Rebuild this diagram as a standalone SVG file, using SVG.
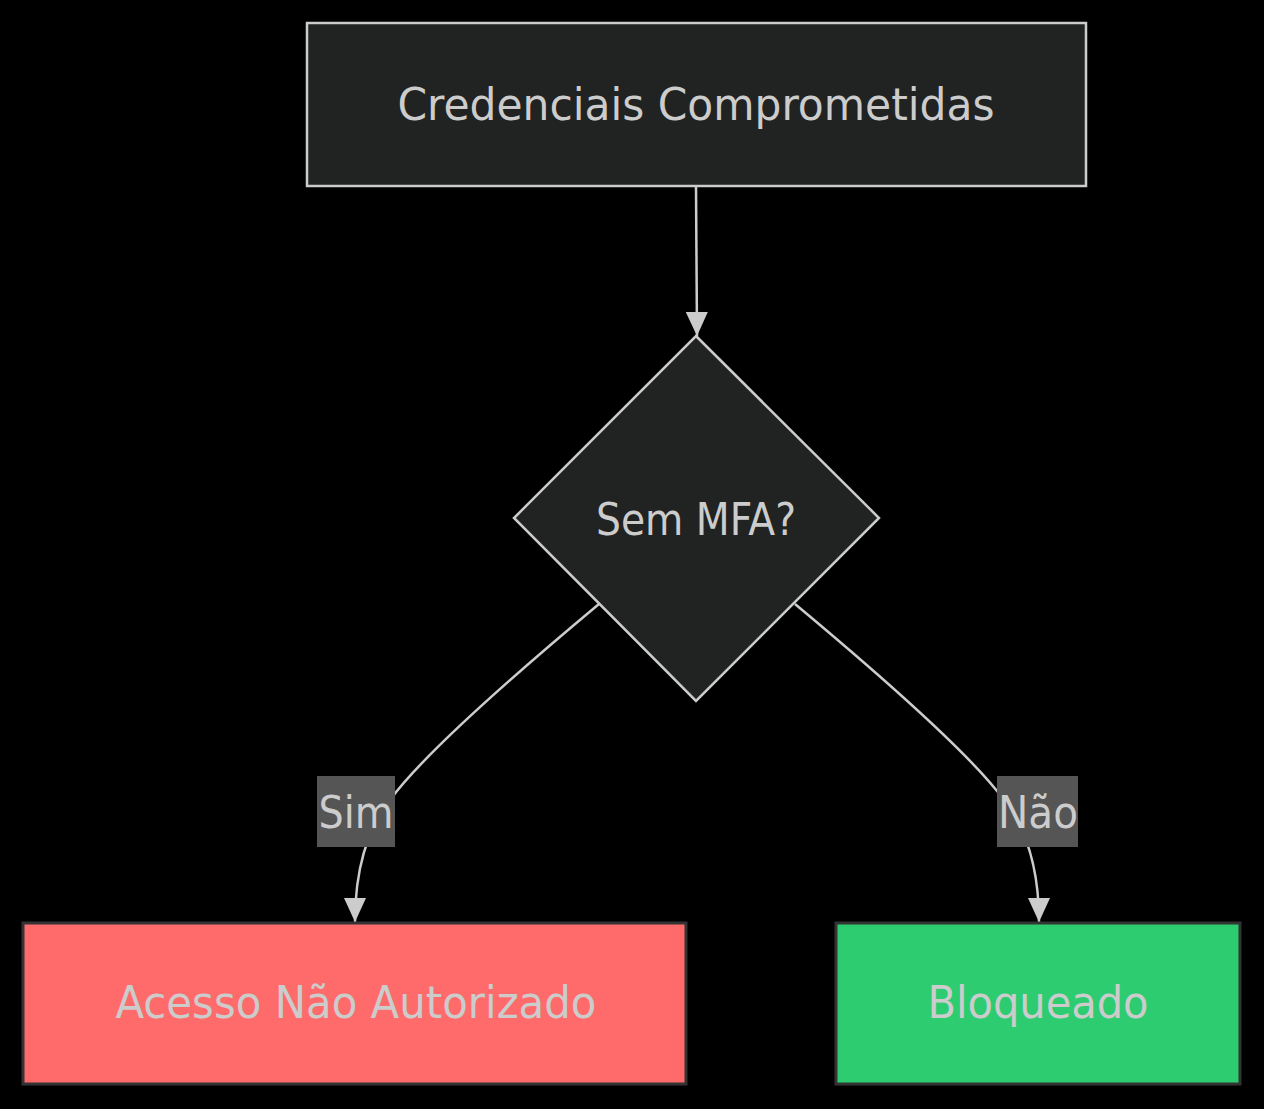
<svg xmlns="http://www.w3.org/2000/svg" width="1264" height="1109" viewBox="0 0 1264 1109">
<style>
text{font-family:"Trebuchet MS","DejaVu Sans Condensed","DejaVu Sans",sans-serif;font-size:44px;fill:#cccccc;text-anchor:middle}
.edge{fill:none;stroke:#cccccc;stroke-width:2.5}
.lbl{fill:#555555}
</style>
<defs>
<marker id="arr" viewBox="0 0 24 22" refX="24" refY="11" markerWidth="24" markerHeight="22" markerUnits="userSpaceOnUse" orient="auto">
<path d="M0,0 L24,11 L0,22 Z" fill="#cccccc"/>
</marker>
</defs>
<rect x="0" y="0" width="1264" height="1109" fill="#000"/>
<g id="connectors">
<path class="edge" d="M696,186 L697,336" marker-end="url(#arr)"/>
<path class="edge" d="M599,604 Q430,745 390,800 Q355,845 355,922" marker-end="url(#arr)"/>
<path class="edge" d="M795,604 Q964,745 1004,800 Q1039,845 1039,922" marker-end="url(#arr)"/>
<g id="label-sim"><rect class="lbl" x="317" y="776" width="78" height="71"/><text x="356" y="828" textLength="75" lengthAdjust="spacingAndGlyphs">Sim</text></g>
<g id="label-nao"><rect class="lbl" x="997" y="776" width="81" height="71"/><text x="1038" y="828" textLength="80" lengthAdjust="spacingAndGlyphs">Não</text></g>
</g>
<g id="node-credenciais">
<rect x="307" y="23" width="779" height="163" fill="#212222" stroke="#cccccc" stroke-width="2.5"/>
<text x="696" y="120" textLength="597" lengthAdjust="spacingAndGlyphs">Credenciais Comprometidas</text>
</g>
<g id="node-mfa">
<polygon points="696,336 879,518 696,701 514,518" fill="#212222" stroke="#cccccc" stroke-width="2.5"/>
<text x="696" y="535" textLength="200" lengthAdjust="spacingAndGlyphs">Sem MFA?</text>
</g>
<g id="node-acesso">
<rect x="23" y="923" width="663" height="161" fill="#ff6b6b" stroke="#333333" stroke-width="3"/>
<text x="356" y="1018" textLength="481" lengthAdjust="spacingAndGlyphs">Acesso Não Autorizado</text>
</g>
<g id="node-bloqueado">
<rect x="836" y="923" width="404" height="161" fill="#2ecc71" stroke="#333333" stroke-width="3"/>
<text x="1038" y="1018" textLength="221" lengthAdjust="spacingAndGlyphs">Bloqueado</text>
</g>
</svg>
